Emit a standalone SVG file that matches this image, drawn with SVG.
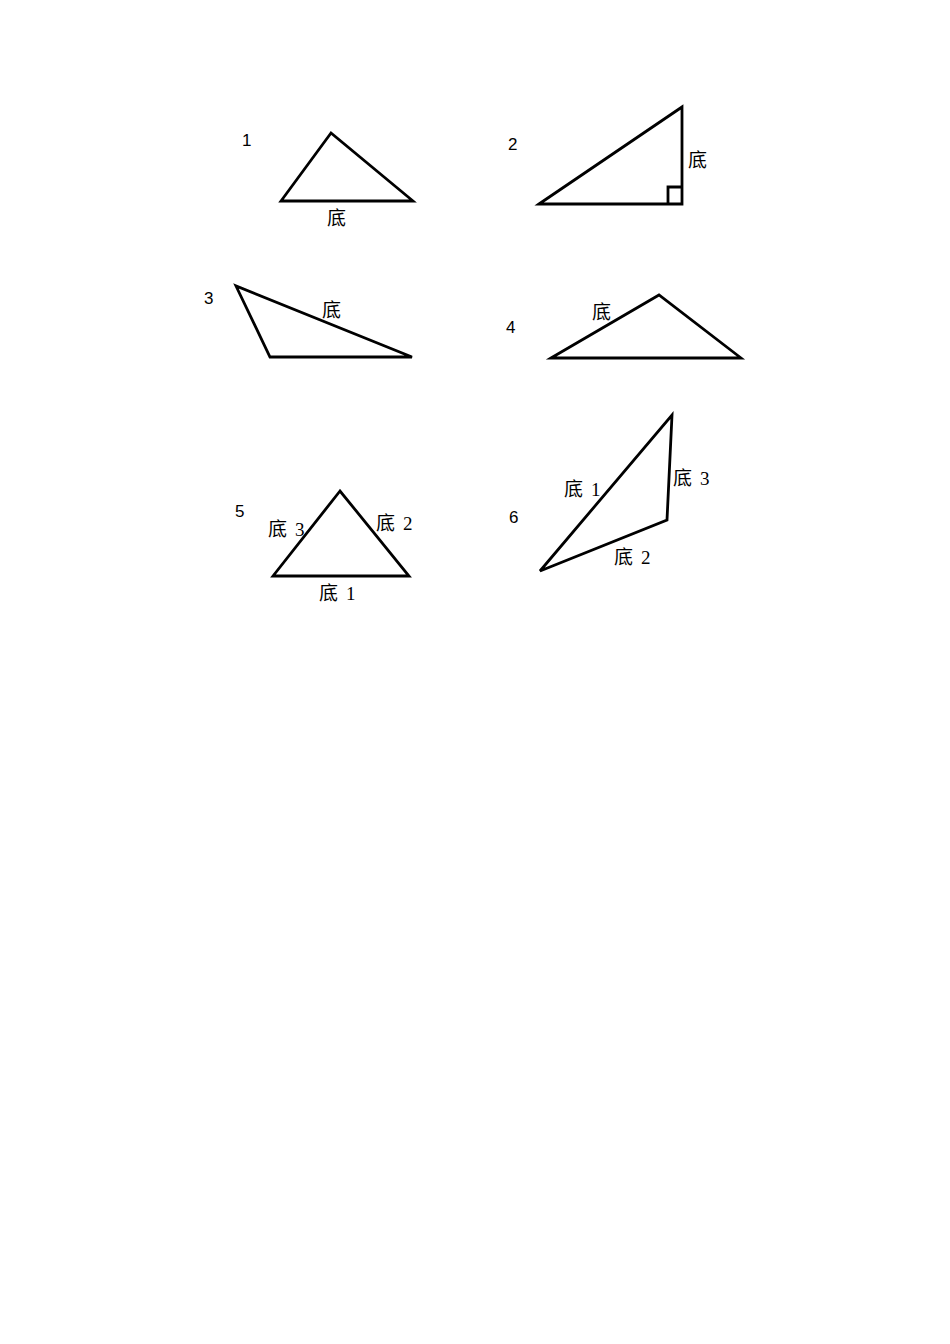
<svg xmlns="http://www.w3.org/2000/svg" width="950" height="1344" viewBox="0 0 950 1344">
<style>
.s{fill:none;stroke:#000;stroke-width:2.8;stroke-linejoin:miter}
.t{font-family:"Liberation Serif","Noto Sans CJK SC",serif;font-size:19px;fill:#000}
.n{font-family:"Liberation Sans","Noto Sans CJK SC",sans-serif;font-size:17px;fill:#000}
</style>
<rect width="950" height="1344" fill="#fff"/>
<g id="tri1">
<polygon class="s" points="331,133 281,201 413,201"/>
<text class="n" x="242" y="146">1</text>
<text class="t" x="327" y="225">底</text>
</g>
<g id="tri2">
<polygon class="s" points="539,204 682,107 682,204"/>
<polyline class="s" points="668,204 668,187 682,187"/>
<text class="n" x="508" y="150">2</text>
<text class="t" x="688" y="167">底</text>
</g>
<g id="tri3">
<polygon class="s" points="236,286 270,357 412,357"/>
<text class="n" x="204" y="304">3</text>
<text class="t" x="322" y="317">底</text>
</g>
<g id="tri4">
<polygon class="s" points="551,358 659,295 741,358"/>
<text class="n" x="506" y="333">4</text>
<text class="t" x="592" y="319">底</text>
</g>
<g id="tri5">
<polygon class="s" points="340,491 273,576 409,576"/>
<text class="n" x="235" y="517">5</text>
<text class="t" x="268" y="536">底<tspan dx="8">3</tspan></text>
<text class="t" x="376" y="530">底<tspan dx="8">2</tspan></text>
<text class="t" x="319" y="600">底<tspan dx="8">1</tspan></text>
</g>
<g id="tri6">
<polygon class="s" points="540,571 672,415 667,520"/>
<text class="n" x="509" y="523">6</text>
<text class="t" x="564" y="496">底<tspan dx="8">1</tspan></text>
<text class="t" x="673" y="485">底<tspan dx="8">3</tspan></text>
<text class="t" x="614" y="564">底<tspan dx="8">2</tspan></text>
</g>
</svg>
